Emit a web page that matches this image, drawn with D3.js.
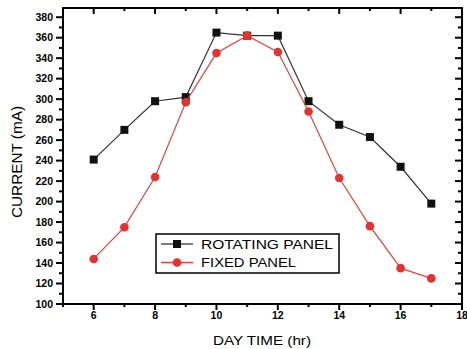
<!DOCTYPE html>
<html>
<head>
<meta charset="utf-8">
<script src="https://cdn.jsdelivr.net/npm/d3@7"></script>
<style>
  body { margin: 0; background: #fff; }
  svg { display: block; font-family: "Liberation Sans", Arial, sans-serif; }
</style>
</head>
<body>
<div id="chart"></div>
<script>
// day time (hr)
var hours = [6, 7, 8, 9, 10, 11, 12, 13, 14, 15, 16, 17];
// current (mA)
var rotating = [241, 270, 298, 302, 365, 362, 362, 298, 275, 263, 234, 198];
var fixed = [144, 175, 224, 297, 345, 362, 346, 288, 223, 176, 135, 125];
var seriesNames = ["ROTATING PANEL", "FIXED PANEL"];
var xTicks = [6, 8, 10, 12, 14, 16, 18];
var yTicks = d3.range(100, 381, 20);

var W = 467, H = 349;
var margin = { top: 8, right: 5, bottom: 45, left: 63 };

var svg = d3.select("#chart").append("svg")
  .attr("width", W).attr("height", H);

var x = d3.scaleLinear().domain([5, 18]).range([margin.left, W - margin.right]);
var y = d3.scaleLinear().domain([100, 389]).range([H - margin.bottom, margin.top]);

var minorX = d3.range(5, 18.01, 1);
var minorY = d3.range(100, 389, 10);

// bottom axis
var gBottom = svg.append("g").attr("transform", "translate(0," + y.range()[0] + ")");
gBottom.selectAll(".mj").data(xTicks).enter().append("line")
  .attr("x1", d => x(d)).attr("x2", d => x(d)).attr("y1", 0).attr("y2", 6)
  .attr("stroke", "#000").attr("stroke-width", 2);
gBottom.selectAll(".mn").data(minorX.filter(d => xTicks.indexOf(d) < 0)).enter().append("line")
  .attr("x1", d => x(d)).attr("x2", d => x(d)).attr("y1", 0).attr("y2", 3)
  .attr("stroke", "#000").attr("stroke-width", 2);
gBottom.selectAll("text").data(xTicks).enter().append("text")
  .attr("x", d => x(d)).attr("y", 15)
  .attr("text-anchor", "middle").attr("font-size", 10.5).attr("font-weight", "bold")
  .text(d => d);

// top axis (inward ticks)
var gTop = svg.append("g").attr("transform", "translate(0," + y.range()[1] + ")");
gTop.selectAll("line").data(minorX).enter().append("line")
  .attr("x1", d => x(d)).attr("x2", d => x(d)).attr("y1", 0)
  .attr("y2", d => xTicks.indexOf(d) >= 0 ? 6 : 3)
  .attr("stroke", "#000").attr("stroke-width", 2);

// left axis
var gLeft = svg.append("g").attr("transform", "translate(" + x.range()[0] + ",0)");
gLeft.selectAll("line").data(minorY).enter().append("line")
  .attr("y1", d => y(d)).attr("y2", d => y(d)).attr("x1", 0)
  .attr("x2", d => d % 20 === 0 ? -7 : -4)
  .attr("stroke", "#000").attr("stroke-width", 2);
gLeft.selectAll("text").data(yTicks).enter().append("text")
  .attr("x", -10).attr("y", d => y(d)).attr("dy", "0.36em")
  .attr("text-anchor", "end").attr("font-size", 10.5).attr("font-weight", "bold")
  .text(d => d);

// right axis (inward ticks)
var gRight = svg.append("g").attr("transform", "translate(" + x.range()[1] + ",0)");
gRight.selectAll("line").data(minorY).enter().append("line")
  .attr("y1", d => y(d)).attr("y2", d => y(d)).attr("x1", 0)
  .attr("x2", d => d % 20 === 0 ? -7 : -4)
  .attr("stroke", "#000").attr("stroke-width", 2);

// frame
svg.append("rect")
  .attr("x", x.range()[0]).attr("y", y.range()[1])
  .attr("width", x.range()[1] - x.range()[0]).attr("height", y.range()[0] - y.range()[1])
  .attr("fill", "none").attr("stroke", "#000").attr("stroke-width", 2);

// axis titles (the original lettering is wide, so stretch to match)
svg.append("text")
  .attr("x", 213).attr("y", 345)
  .attr("font-size", 13.5)
  .attr("textLength", 98).attr("lengthAdjust", "spacingAndGlyphs")
  .text("DAY TIME (hr)");
svg.append("text")
  .attr("transform", "translate(22,218) rotate(-90)")
  .attr("font-size", 14)
  .attr("textLength", 112).attr("lengthAdjust", "spacingAndGlyphs")
  .text("CURRENT (mA)");

var line = d3.line().x(d => x(d[0])).y(d => y(d[1]));
var rotData = hours.map((h, i) => [h, rotating[i]]);
var fixData = hours.map((h, i) => [h, fixed[i]]);

// rotating panel
svg.append("path").datum(rotData).attr("d", line)
  .attr("fill", "none").attr("stroke", "#333").attr("stroke-width", 1.2);
svg.selectAll(".sq").data(rotData).enter().append("rect")
  .attr("x", d => x(d[0]) - 4).attr("y", d => y(d[1]) - 4)
  .attr("width", 8).attr("height", 8).attr("fill", "#111");

// fixed panel
svg.append("path").datum(fixData).attr("d", line)
  .attr("fill", "none").attr("stroke", "#e8413c").attr("stroke-width", 1.2);
svg.selectAll(".ci").data(fixData).enter().append("circle")
  .attr("cx", d => x(d[0])).attr("cy", d => y(d[1])).attr("r", 4.3)
  .attr("fill", "#e6312e");

// legend
var lg = svg.append("g");
lg.append("rect").attr("x", 156).attr("y", 234).attr("width", 183).attr("height", 39)
  .attr("fill", "#fff").attr("stroke", "#000").attr("stroke-width", 1.5);
var rowsY = [244, 262.5];
var labelWidths = [132, 95];
lg.append("line").attr("x1", 161).attr("x2", 193).attr("y1", rowsY[0]).attr("y2", rowsY[0])
  .attr("stroke", "#555").attr("stroke-width", 1.5);
lg.append("rect").attr("x", 173).attr("y", rowsY[0] - 4).attr("width", 8).attr("height", 8)
  .attr("fill", "#111");
lg.append("line").attr("x1", 161).attr("x2", 193).attr("y1", rowsY[1]).attr("y2", rowsY[1])
  .attr("stroke", "#e8413c").attr("stroke-width", 1.5);
lg.append("circle").attr("cx", 177).attr("cy", rowsY[1]).attr("r", 4.3).attr("fill", "#e6312e");
lg.selectAll("text").data(seriesNames).enter().append("text")
  .attr("x", 201).attr("y", (d, i) => rowsY[i]).attr("dy", "0.36em")
  .attr("font-size", 13)
  .attr("textLength", (d, i) => labelWidths[i]).attr("lengthAdjust", "spacingAndGlyphs")
  .text(d => d);
</script>
</body>
</html>
